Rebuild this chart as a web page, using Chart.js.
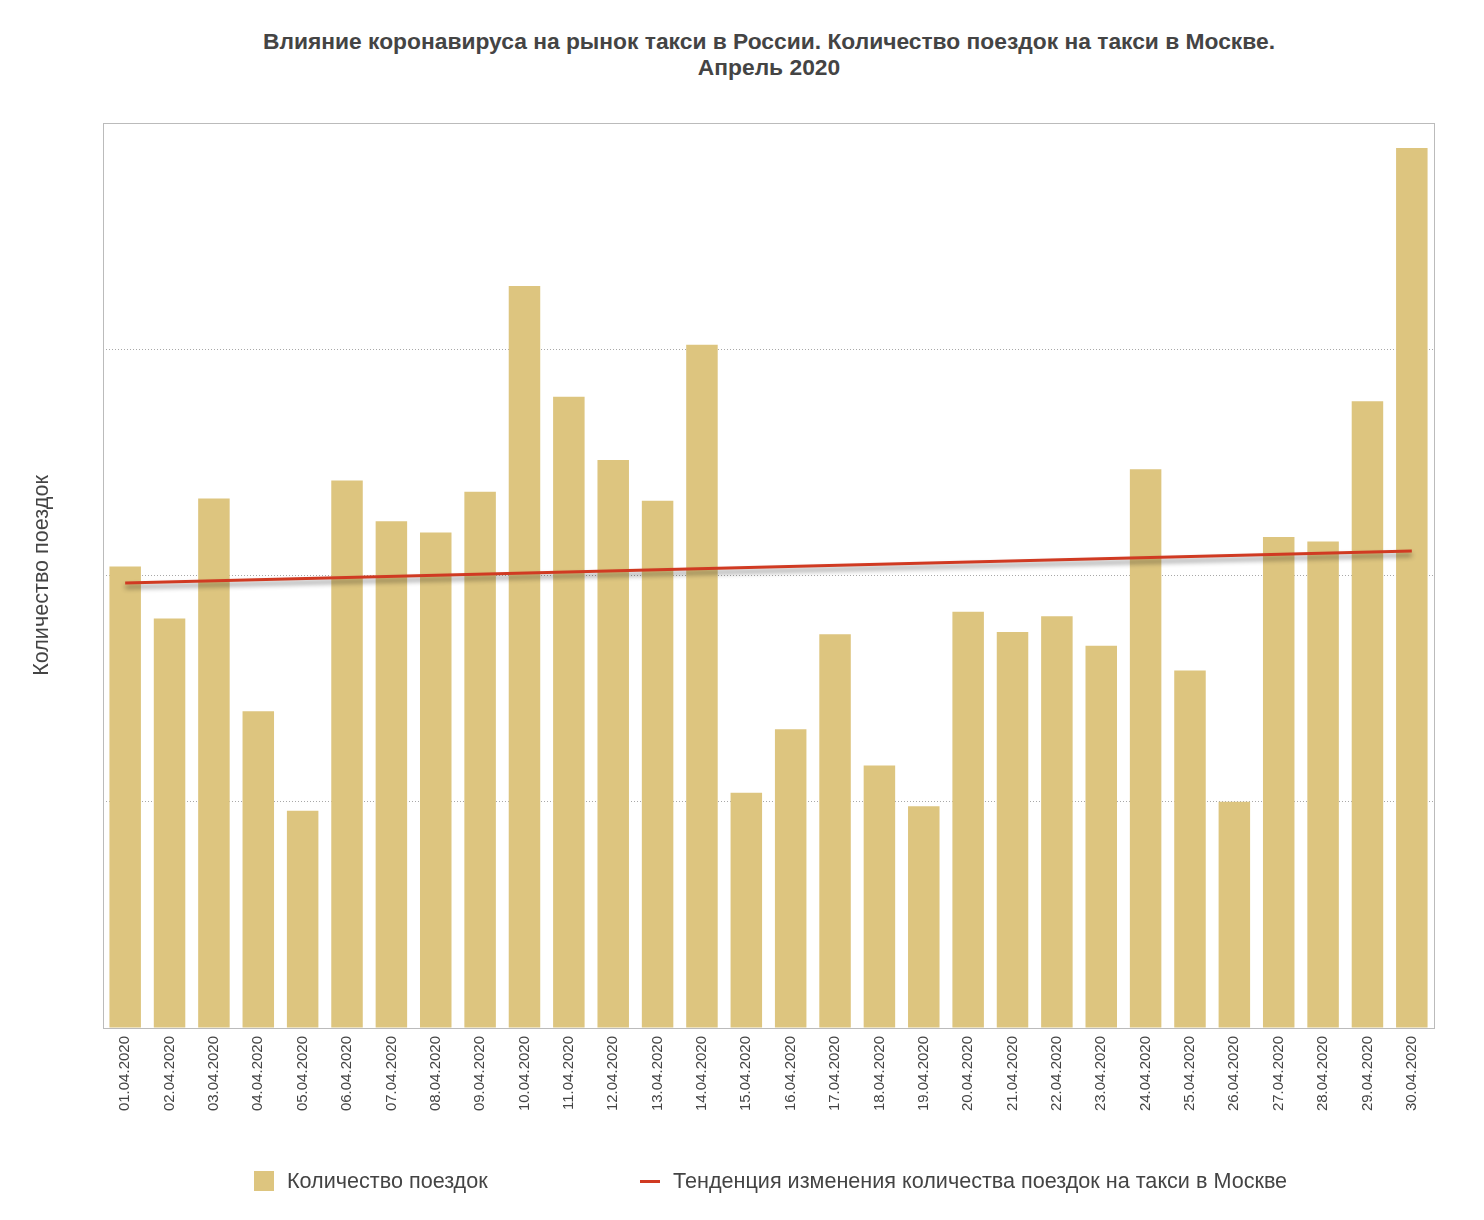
<!DOCTYPE html>
<html>
<head>
<meta charset="utf-8">
<script src="https://cdn.jsdelivr.net/npm/chart.js@4/dist/chart.umd.min.js"></script>
<style>
  html, body { margin: 0; padding: 0; background: #fff; }
  #wrap { position: relative; width: 1484px; height: 1220px; font-family: "Liberation Sans", Arial, sans-serif; color: #444; }
  #chart { position: absolute; left: 0; top: 0; }
  #title { position: absolute; left: 169px; width: 1200px; top: 28px; text-align: center; font-weight: bold; font-size: 22.8px; line-height: 26px; color: #444; }
  .leg { position: absolute; top: 1169px; font-size: 21.6px; line-height: 24px; color: #444; white-space: nowrap; }
  .sw-bar { position: absolute; width: 20px; height: 20px; background: #ddc57f; top: 2px; }
  .sw-line { position: absolute; width: 20px; height: 3px; background: #d03a22; top: 11px; }
</style>
</head>
<body>
<div id="wrap">
  <div id="title">Влияние коронавируса на рынок такси в России. Количество поездок на такси в Москве.<br>Апрель 2020</div>
  <canvas id="chart" width="1484" height="1220"></canvas>
  <div class="leg" style="left:254px"><span class="sw-bar" style="left:0"></span><span style="margin-left:33px">Количество поездок</span></div>
  <div class="leg" style="left:640px"><span class="sw-line" style="left:0"></span><span style="margin-left:33px">Тенденция изменения количества поездок на такси в Москве</span></div>
</div>
<script>
// даты апреля 2020
const dias = [
  '01.04.2020','02.04.2020','03.04.2020','04.04.2020','05.04.2020','06.04.2020',
  '07.04.2020','08.04.2020','09.04.2020','10.04.2020','11.04.2020','12.04.2020',
  '13.04.2020','14.04.2020','15.04.2020','16.04.2020','17.04.2020','18.04.2020',
  '19.04.2020','20.04.2020','21.04.2020','22.04.2020','23.04.2020','24.04.2020',
  '25.04.2020','26.04.2020','27.04.2020','28.04.2020','29.04.2020','30.04.2020'
];

// количество поездок (относительные единицы, шкала без подписей)
const viajes = [
  2.04, 1.81, 2.34, 1.40, 0.96, 2.42, 2.24, 2.19, 2.37, 3.28,
  2.79, 2.51, 2.33, 3.02, 1.04, 1.32, 1.74, 1.16, 0.98, 1.84,
  1.75, 1.82, 1.69, 2.47, 1.58, 1.00, 2.17, 2.15, 2.77, 3.89
];

// линия тренда: только начало и конец
const tendencia = [1.967, null, null, null, null, null, null, null, null, null,
  null, null, null, null, null, null, null, null, null, null,
  null, null, null, null, null, null, null, null, null, 2.108];

const yMin = 0, yMax = 4, yStep = 1;

// рамка вокруг области графика
const bordePlugin = {
  id: 'borde',
  afterDraw(chart) {
    const a = chart.chartArea, ctx = chart.ctx;
    ctx.save();
    ctx.strokeStyle = '#bbbbbb';
    ctx.lineWidth = 1;
    ctx.strokeRect(Math.round(a.left) + 0.5, Math.round(a.top) + 0.5,
      Math.round(a.right - a.left), Math.round(a.bottom - a.top));
    ctx.restore();
  }
};

// тень под линией тренда
const sombraPlugin = {
  id: 'sombra',
  beforeDatasetDraw(chart, args) {
    if (args.index !== 1) return;
    const ctx = chart.ctx;
    ctx.save();
    ctx.shadowColor = 'rgba(0,0,0,0.45)';
    ctx.shadowBlur = 5;
    ctx.shadowOffsetY = 4;
  },
  afterDatasetDraw(chart, args) {
    if (args.index !== 1) return;
    chart.ctx.restore();
  }
};

new Chart(document.getElementById('chart').getContext('2d'), {
  data: {
    labels: dias,
    datasets: [
      {
        type: 'bar',
        label: 'Количество поездок',
        data: viajes,
        backgroundColor: '#ddc57f',
        barPercentage: 0.71,
        categoryPercentage: 1,
        order: 2
      },
      {
        type: 'line',
        label: 'Тенденция изменения количества поездок на такси в Москве',
        data: tendencia,
        borderColor: '#d03a22',
        borderWidth: 3,
        pointRadius: 0,
        spanGaps: true,
        tension: 0,
        order: 1
      }
    ]
  },
  options: {
    responsive: false,
    animation: false,
    layout: { padding: { top: 123, right: 50, bottom: 92, left: 0 } },
    plugins: {
      legend: { display: false },
      title: { display: false },
      tooltip: { enabled: false }
    },
    scales: {
      x: {
        grid: { display: false, drawTicks: false },
        border: { display: false },
        ticks: {
          color: '#444',
          font: { family: '"Liberation Sans", Arial, sans-serif', size: 15 },
          maxRotation: 90, minRotation: 90, padding: 8, autoSkip: false
        },
        afterFit(s) { s.height = 100; }
      },
      y: {
        min: yMin, max: yMax,
        grid: {
          color: (c) => (c.tick.value === yMin || c.tick.value === yMax) ? 'rgba(0,0,0,0)' : '#a8a8a8',
          drawTicks: false
        },
        border: { display: false, dash: [1, 2] },
        ticks: { display: false, stepSize: yStep },
        title: {
          display: true,
          text: 'Количество поездок',
          color: '#444',
          font: { family: '"Liberation Sans", Arial, sans-serif', size: 21.6 },
          padding: { top: 29, bottom: 0 }
        },
        afterFit(s) { s.width = 103; }
      }
    }
  },
  plugins: [bordePlugin, sombraPlugin]
});
</script>
</body>
</html>
